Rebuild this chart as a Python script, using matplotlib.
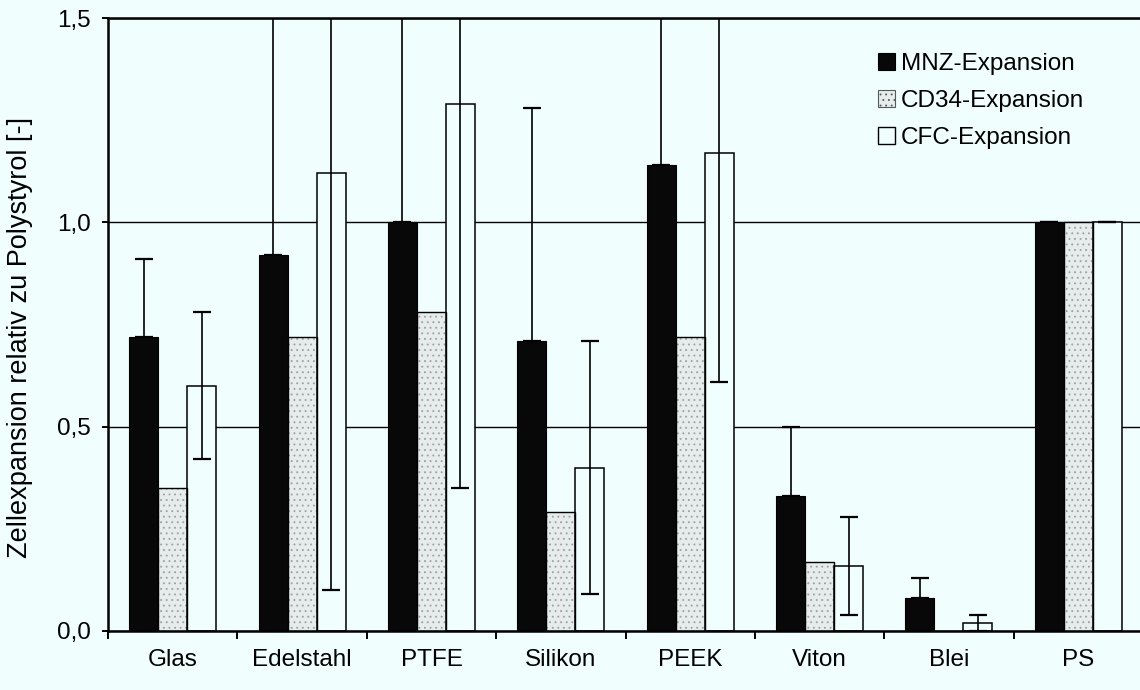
import numpy as np
import matplotlib
matplotlib.use("Agg")
import matplotlib.pyplot as plt
from matplotlib.patches import Patch

# Zellexpansion auf verschiedenen Materialien, bezogen auf Polystyrol
materials = ['Glas', 'Edelstahl', 'PTFE', 'Silikon', 'PEEK', 'Viton', 'Blei', 'PS']
mnz = [0.72, 0.92, 1.00, 0.71, 1.14, 0.33, 0.08, 1.00]
mnz_err = [0.19, 0.75, 0.65, 0.57, 0.50, 0.17, 0.05, 0.0]
cd34 = [0.35, 0.72, 0.78, 0.29, 0.72, 0.17, 0.0, 1.00]
cfc = [0.60, 1.12, 1.29, 0.40, 1.17, 0.16, 0.02, 1.00]
cfc_err = [0.18, 1.02, 0.94, 0.31, 0.56, 0.12, 0.02, 0.0]

series_labels = ['MNZ-Expansion', 'CD34-Expansion', 'CFC-Expansion']
y_ticks = [0.0, 0.5, 1.0, 1.5]
y_tick_labels = ['0,0', '0,5', '1,0', '1,5']

bg = '#f0fefe'
plt.rcParams['font.family'] = ['Liberation Sans', 'DejaVu Sans']
plt.rcParams['hatch.linewidth'] = 0.6

fig = plt.figure(figsize=(11.4, 6.9), dpi=100, facecolor=bg)
ax = fig.add_axes([108 / 1140, 1 - 631 / 690, 1035 / 1140, 613 / 690])
ax.set_facecolor(bg)

x = np.arange(len(materials))
w = 0.224

# MNZ: schwarze Balken
ax.bar(x - w, mnz, w, color='#080808', edgecolor='black', linewidth=0.8, zorder=2)
# CD34: gepunktete hellgraue Balken mit schwarzem Rand
ax.bar(x, cd34, w, color='#e6ebeb', edgecolor='#9aa0a0', hatch='...', linewidth=0, zorder=2)
ax.bar(x, cd34, w, fill=False, edgecolor='black', linewidth=1.0, zorder=2.1)
# CFC: offene Balken
ax.bar(x + w, cfc, w, color=bg, edgecolor='black', linewidth=1.1, zorder=2)

err_style = dict(fmt='none', ecolor='black', elinewidth=1.2, capsize=6.5, capthick=1.6)
# bei den schwarzen Balken nur der obere Fehlerbalken, hinter dem Balken
ax.errorbar(x - w, mnz, yerr=[np.zeros(len(mnz)), mnz_err], zorder=1.9, **err_style)
ax.errorbar(x + w, cfc, yerr=cfc_err, zorder=3, **err_style)

ax.set_xlim(-0.5, len(materials) - 0.5)
ax.set_ylim(0, 1.5)
ax.set_yticks(y_ticks)
ax.set_yticklabels(y_tick_labels)
ax.yaxis.grid(True, color='black', linewidth=1.0)
ax.set_axisbelow(True)

# Teilstriche an den Gruppengrenzen, Beschriftung in der Mitte
ax.set_xticks(np.arange(len(materials) + 1) - 0.5)
ax.set_xticklabels([])
ax.set_xticks(x, minor=True)
ax.set_xticklabels(materials, minor=True)
ax.tick_params(axis='x', which='major', direction='out', length=6, width=1.4)
ax.tick_params(axis='x', which='minor', length=0, pad=13, labelsize=17.5)
ax.tick_params(axis='y', direction='out', length=4.5, width=1.4, pad=8, labelsize=17.5)

for side in ['left', 'bottom', 'top', 'right']:
    ax.spines[side].set_linewidth(1.8)

fig.text(20 / 1140, 1 - 337 / 690, 'Zellexpansion relativ zu Polystyrol [-]',
         rotation=90, ha='center', va='center', fontsize=19.5)

handles = [
    Patch(facecolor='#080808', edgecolor='black', linewidth=0.8),
    Patch(facecolor='#e6ebeb', edgecolor='#555a5a', hatch='...', linewidth=0.8),
    Patch(facecolor=bg, edgecolor='black', linewidth=1.0),
]
fig.legend(handles, series_labels, loc='upper left', bbox_to_anchor=(878 / 1140, 1 - 53 / 690),
           frameon=False, fontsize=17.5, borderpad=0, borderaxespad=0,
           handlelength=0.7, handleheight=0.66, handletextpad=0.25, labelspacing=0.62)

fig.savefig('out.png', dpi=100, facecolor=bg)
